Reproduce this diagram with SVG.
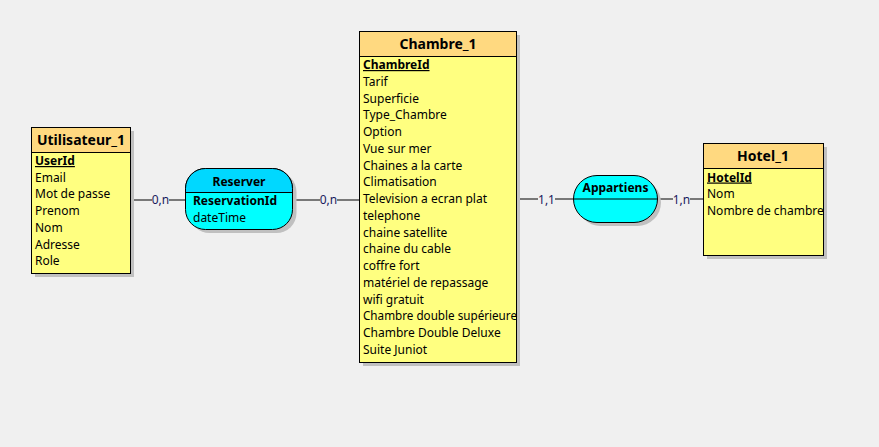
<svg xmlns="http://www.w3.org/2000/svg" width="879" height="447" viewBox="0 0 879 447">
<defs>
<style>
.t{font-family:"Noto Sans","Open Sans",sans-serif;font-size:12px;fill:#000}
.b{font-weight:bold}
.h{font-family:"Noto Sans","Open Sans",sans-serif;font-size:14px;font-weight:bold;fill:#000}
.r{font-family:"Noto Sans","Open Sans",sans-serif;font-size:12px;font-weight:bold;fill:#000}
.lbl{font-family:"Noto Sans","Open Sans",sans-serif;font-size:12px;fill:#1a1a5e}
.body{fill:#ffff80;stroke:#000;stroke-width:1}
.head{fill:#ffd980;stroke:#000;stroke-width:1}
.sh{fill:#c0c0c0}
.ln{stroke:#000;stroke-width:1;fill:none}
.bg{fill:#f0f0f0}
</style>
<clipPath id="hc"><rect x="703" y="143" width="120" height="112"/></clipPath>
<clipPath id="rtop"><rect x="180" y="160" width="120" height="32"/></clipPath>
</defs>
<rect width="879" height="447" fill="#f0f0f0"/>

<g id="connectors">
<line class="ln" x1="130" y1="200" x2="186" y2="200"/>
<rect class="bg" x="152" y="192" width="17" height="14"/>
<text class="lbl" x="160.5" y="204" text-anchor="middle">0,n</text>
<line class="ln" x1="292" y1="200" x2="359" y2="200"/>
<rect class="bg" x="320" y="192" width="17" height="14"/>
<text class="lbl" x="328.5" y="204" text-anchor="middle">0,n</text>
<line class="ln" x1="516" y1="199" x2="573" y2="199"/>
<rect class="bg" x="538" y="191" width="17" height="14"/>
<text class="lbl" x="546.5" y="204" text-anchor="middle">1,1</text>
<line class="ln" x1="657" y1="199" x2="703" y2="199"/>
<rect class="bg" x="673" y="191" width="17" height="14"/>
<text class="lbl" x="681.5" y="204" text-anchor="middle">1,n</text>
</g>

<g id="Utilisateur_1">
<rect class="sh" x="35" y="131" width="99" height="146"/>
<rect class="body" x="31.5" y="127.5" width="99" height="146"/>
<rect class="head" x="31.5" y="127.5" width="99" height="25"/>
<text class="h" x="81" y="145" text-anchor="middle">Utilisateur_1</text>
<text class="t b" x="35" y="165" text-decoration="underline">UserId</text>
<text class="t" x="35" y="181.7">Email</text>
<text class="t" x="35" y="198.4">Mot de passe</text>
<text class="t" x="35" y="215.1">Prenom</text>
<text class="t" x="35" y="231.8">Nom</text>
<text class="t" x="35" y="248.5">Adresse</text>
<text class="t" x="35" y="265.2">Role</text>
</g>

<g id="Reserver">
<rect class="sh" x="189.5" y="172" width="107" height="61" rx="20" ry="20"/>
<rect x="185.5" y="168.5" width="107" height="61" rx="20" ry="20" fill="#00ffff" stroke="#000"/>
<rect x="185.5" y="168.5" width="107" height="61" rx="20" ry="20" fill="#00d8ff" stroke="#000" clip-path="url(#rtop)"/>
<line class="ln" x1="185.5" y1="192.5" x2="292.5" y2="192.5"/>
<text class="r" x="239" y="185.5" text-anchor="middle">Reserver</text>
<text class="t b" x="193" y="205">ReservationId</text>
<text class="t" x="193" y="221.5">dateTime</text>
</g>

<g id="Chambre_1">
<rect class="sh" x="363" y="35" width="157" height="331"/>
<rect class="body" x="359.5" y="31.5" width="157" height="331"/>
<rect class="head" x="359.5" y="31.5" width="157" height="25"/>
<text class="h" x="438" y="49" text-anchor="middle">Chambre_1</text>
<text class="t b" x="363" y="69" text-decoration="underline">ChambreId</text>
<text class="t" x="363" y="85.75">Tarif</text>
<text class="t" x="363" y="102.5">Superficie</text>
<text class="t" x="363" y="119.25">Type_Chambre</text>
<text class="t" x="363" y="136">Option</text>
<text class="t" x="363" y="152.75">Vue sur mer</text>
<text class="t" x="363" y="169.5">Chaines a la carte</text>
<text class="t" x="363" y="186.25">Climatisation</text>
<text class="t" x="363" y="203">Television a ecran plat</text>
<text class="t" x="363" y="219.75">telephone</text>
<text class="t" x="363" y="236.5">chaine satellite</text>
<text class="t" x="363" y="253.25">chaine du cable</text>
<text class="t" x="363" y="270">coffre fort</text>
<text class="t" x="363" y="286.75">matériel de repassage</text>
<text class="t" x="363" y="303.5">wifi gratuit</text>
<text class="t" x="363" y="320.25" textLength="154" lengthAdjust="spacingAndGlyphs">Chambre double supérieure</text>
<text class="t" x="363" y="337">Chambre Double Deluxe</text>
<text class="t" x="363" y="353.75">Suite Juniot</text>
</g>

<g id="Appartiens">
<rect class="sh" x="577" y="179" width="84" height="47" rx="23.5" ry="23.5"/>
<rect x="573.5" y="175.5" width="84" height="47" rx="23.5" ry="23.5" fill="#00ffff" stroke="#000"/>
<line class="ln" x1="573.5" y1="199" x2="657.5" y2="199"/>
<text class="r" x="615.5" y="192" text-anchor="middle">Appartiens</text>
</g>

<g id="Hotel_1">
<rect class="sh" x="707" y="147" width="120" height="112"/>
<rect class="body" x="703.5" y="143.5" width="120" height="112"/>
<rect class="head" x="703.5" y="143.5" width="120" height="25"/>
<text class="h" x="763" y="161" text-anchor="middle">Hotel_1</text>
<g clip-path="url(#hc)">
<text class="t b" x="707" y="181.5" text-decoration="underline">HotelId</text>
<text class="t" x="707" y="198.2">Nom</text>
<text class="t" x="707" y="214.9">Nombre de chambre</text>
</g>
<rect x="703.5" y="143.5" width="120" height="112" fill="none" stroke="#000"/>
</g>
</svg>
